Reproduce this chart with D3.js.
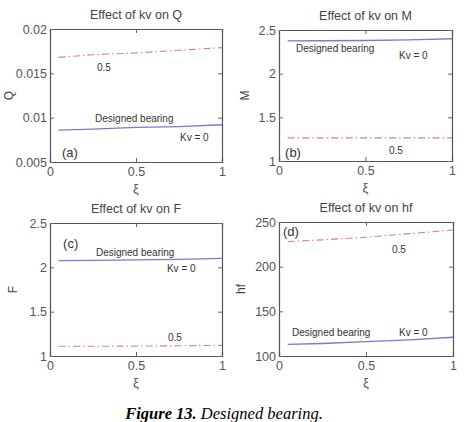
<!DOCTYPE html>
<html>
<head>
<meta charset="utf-8">
<script src="https://cdn.jsdelivr.net/npm/d3@7"></script>
<style>
  body { margin: 0; background: #fff; }
  svg { display: block; font-family: "Liberation Sans", Arial, sans-serif; }
</style>
</head>
<body>
<div id="chart"></div>
<script>
// values
var xi = [0.05, 0.25, 0.5, 0.75, 1];

var qDesigned = [0.0086, 0.0087, 0.0089, 0.0090, 0.0092];
var qKv05 = [0.0168, 0.0171, 0.0173, 0.0176, 0.0179];

var mDesigned = [2.375, 2.377, 2.38, 2.386, 2.40];
var mKv05 = [1.265, 1.265, 1.265, 1.265, 1.265];

var fDesigned = [2.075, 2.078, 2.085, 2.09, 2.1];
var fKv05 = [1.11, 1.11, 1.112, 1.115, 1.12];

var hfDesigned = [113, 114, 116, 118, 121];
var hfKv05 = [228, 230, 233, 237, 241];

var xTicks = [0, 0.5, 1];
var xTickLabels = ["0", "0.5", "1"];

var width = 464, height = 422;

var svg = d3.select("#chart")
    .append("svg")
    .attr("width", width)
    .attr("height", height);

var panels = [
    {
        box: [50, 29, 222, 162], title: "Effect of kv on Q", ylab: "Q", ylabX: 9, tag: "(a)",
        domain: [0.005, 0.02], ticks: [0.005, 0.01, 0.015, 0.02], tickLabels: ["0.005", "0.01", "0.015", "0.02"],
        blue: qDesigned, red: qKv05,
        notes: [["0.5", 0.273, 0.316], ["Designed bearing", 0.262, 0.70], ["Kv = 0", 0.756, 0.842]],
        tagPos: [0.07, 0.977]
    },
    {
        box: [279, 30, 452, 161], title: "Effect of kv on M", ylab: "M", ylabX: 245, tag: "(b)",
        domain: [1, 2.5], ticks: [1, 1.5, 2, 2.5], tickLabels: ["1", "1.5", "2", "2.5"],
        blue: mDesigned, red: mKv05,
        notes: [["Designed bearing", 0.098, 0.168], ["Kv = 0", 0.694, 0.221], ["0.5", 0.636, 0.947]],
        tagPos: [0.035, 0.985]
    },
    {
        box: [50, 223, 222, 356], title: "Effect of kv on F", ylab: "F", ylabX: 13, tag: "(c)",
        domain: [1, 2.5], ticks: [1, 1.5, 2, 2.5], tickLabels: ["1", "1.5", "2", "2.5"],
        blue: fDesigned, red: fKv05,
        notes: [["Designed bearing", 0.267, 0.248], ["Kv = 0", 0.68, 0.368], ["0.5", 0.686, 0.887]],
        tagPos: [0.076, 0.203]
    },
    {
        box: [279, 222, 453, 356], title: "Effect of kv on hf", ylab: "hf", ylabX: 241, tag: "(d)",
        domain: [100, 250], ticks: [100, 150, 200, 250], tickLabels: ["100", "150", "200", "250"],
        blue: hfDesigned, red: hfKv05,
        notes: [["0.5", 0.649, 0.231], ["Designed bearing", 0.075, 0.85], ["Kv = 0", 0.69, 0.85]],
        tagPos: [0.023, 0.12]
    }
];

panels.forEach(drawPanel);

function drawPanel(p) {
    var x0 = p.box[0], y0 = p.box[1], x1 = p.box[2], y1 = p.box[3];
    var w = x1 - x0, h = y1 - y0;

    var x = d3.scaleLinear().domain([0, 1]).range([x0, x1]);
    var y = d3.scaleLinear().domain(p.domain).range([y1, y0]);

    var g = svg.append("g");

    // axes, matlab style: ticks inward on all four sides
    var ax = d3.axisBottom(x).tickValues(xTicks).tickSize(-4)
        .tickFormat(function (d, i) { return xTickLabels[i]; });
    var axTop = d3.axisTop(x).tickValues(xTicks).tickSize(-4).tickFormat("");
    var ay = d3.axisLeft(y).tickValues(p.ticks).tickSize(-4)
        .tickFormat(function (d, i) { return p.tickLabels[i]; });
    var ayRight = d3.axisRight(y).tickValues(p.ticks).tickSize(-4).tickFormat("");

    var gx = g.append("g").attr("transform", "translate(0," + y1 + ")").call(ax);
    g.append("g").attr("transform", "translate(0," + y0 + ")").call(axTop);
    g.append("g").attr("transform", "translate(" + x0 + ",0)").call(ay);
    g.append("g").attr("transform", "translate(" + x1 + ",0)").call(ayRight);

    g.selectAll(".domain").attr("stroke", "#555").attr("stroke-width", 1.2);
    g.selectAll(".tick line").attr("stroke", "#666");
    g.selectAll(".tick text")
        .attr("font-size", "12.5px")
        .attr("fill", "#555")
        .attr("font-family", "Liberation Sans, Arial, sans-serif");
    gx.selectAll(".tick text").attr("dy", "0.9em");

    // lines
    var line = d3.line()
        .x(function (d, i) { return x(xi[i]); })
        .y(function (d) { return y(d); });

    g.append("path")
        .datum(p.blue)
        .attr("d", line)
        .attr("fill", "none")
        .attr("stroke", "#7a7ac8")
        .attr("stroke-width", 1.3);

    g.append("path")
        .datum(p.red)
        .attr("d", line)
        .attr("fill", "none")
        .attr("stroke", "#e08080")
        .attr("stroke-width", 1.1)
        .attr("stroke-dasharray", "7,3,1.5,3");

    // title and labels
    g.append("text")
        .attr("x", (x0 + x1) / 2)
        .attr("y", y0 - 10)
        .attr("text-anchor", "middle")
        .attr("font-size", "12.5px")
        .attr("fill", "#444")
        .text(p.title);

    g.append("text")
        .attr("x", (x0 + x1) / 2)
        .attr("y", y1 + 31)
        .attr("text-anchor", "middle")
        .attr("font-size", "13px")
        .attr("fill", "#555")
        .text("ξ");

    g.append("text")
        .attr("transform", "translate(" + p.ylabX + "," + ((y0 + y1) / 2) + ") rotate(-90)")
        .attr("text-anchor", "middle")
        .attr("dy", "0.35em")
        .attr("font-size", "12px")
        .attr("fill", "#444")
        .text(p.ylab);

    p.notes.forEach(function (n) {
        g.append("text")
            .attr("x", x0 + n[1] * w)
            .attr("y", y0 + n[2] * h)
            .attr("font-size", "10px")
            .attr("fill", "#333")
            .text(n[0]);
    });

    g.append("text")
        .attr("x", x0 + p.tagPos[0] * w)
        .attr("y", y0 + p.tagPos[1] * h - 2)
        .attr("font-size", "13px")
        .attr("fill", "#333")
        .text(p.tag);
}

// caption
var cap = svg.append("text")
    .attr("x", 224)
    .attr("y", 419)
    .attr("text-anchor", "middle")
    .attr("font-family", "Liberation Serif, Times New Roman, serif")
    .attr("font-size", "16.5px")
    .attr("font-style", "italic")
    .attr("fill", "#000");
cap.append("tspan").attr("font-weight", "bold").text("Figure 13.");
cap.append("tspan").text(" Designed bearing.");
</script>
</body>
</html>
